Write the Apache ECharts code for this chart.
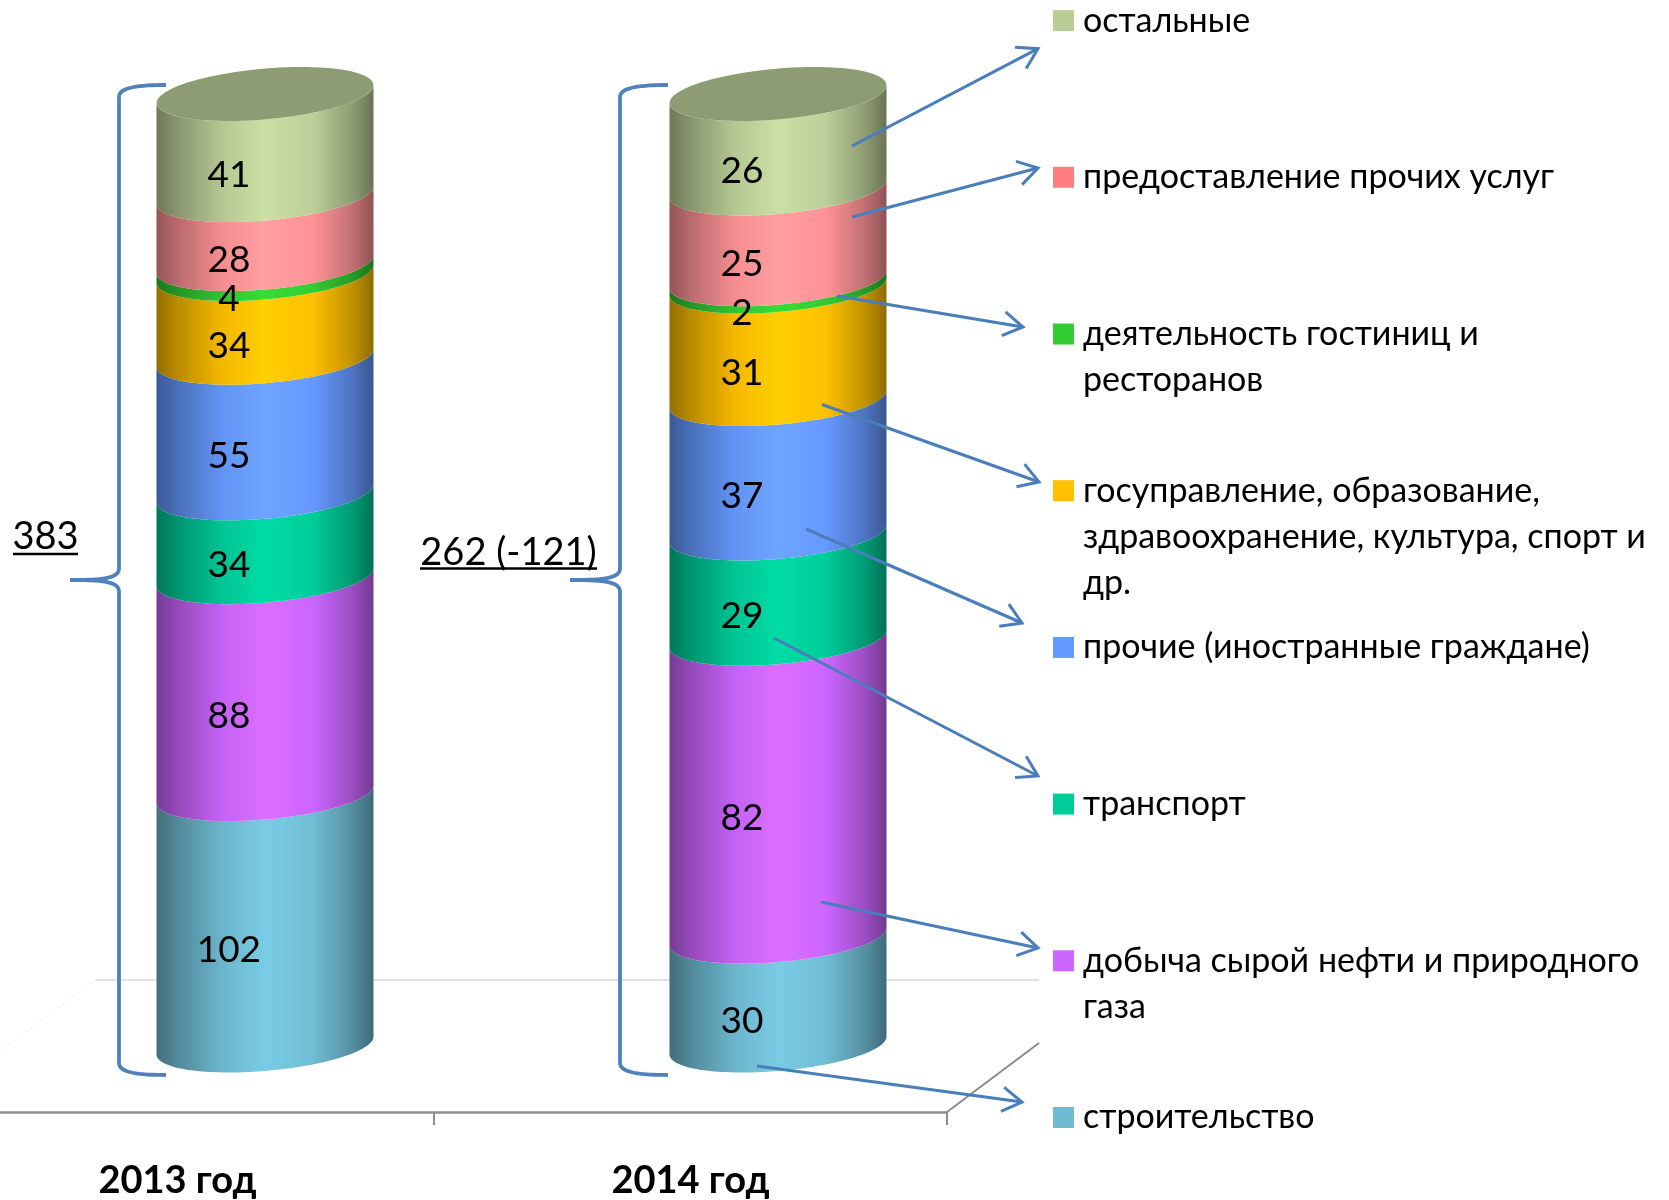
<!DOCTYPE html>
<html>
<head>
<meta charset="utf-8">
<style>html,body{margin:0;padding:0;background:#fff}#chart{width:1669px;height:1200px}</style>
<script src="https://cdn.jsdelivr.net/npm/echarts@6/dist/echarts.min.js"></script>
</head>
<body>
<div id="chart"></div>
<script>
// ---- data ----
const categories = ['2013 год', '2014 год'];
const construction = [102, 30];
const oilGas = [88, 82];
const transport = [34, 29];
const otherForeign = [55, 37];
const publicSector = [34, 31];
const hotels = [4, 2];
const otherServices = [28, 25];
const remaining = [41, 26];
const seriesNames = [
  'строительство',
  'добыча сырой нефти и природного газа',
  'транспорт',
  'прочие (иностранные граждане)',
  'госуправление, образование, здравоохранение, культура, спорт и др.',
  'деятельность гостиниц и ресторанов',
  'предоставление прочих услуг',
  'остальные'
];
const seriesValues = [construction, oilGas, transport, otherForeign, publicSector, hotels, otherServices, remaining];
const legendLines = [
  ['строительство'],
  ['добыча сырой нефти и природного', 'газа'],
  ['транспорт'],
  ['прочие (иностранные граждане)'],
  ['госуправление, образование,', 'здравоохранение, культура, спорт и', 'др.'],
  ['деятельность гостиниц и', 'ресторанов'],
  ['предоставление прочих услуг'],
  ['остальные']
];
const legendColors = ['#6fbcd2', '#cc66ff', '#00cc99', '#6699ff', '#ffc000', '#33cc33', '#ff7c80', '#b9cd96'];
const barColors = ['#70bdd4', '#cc66ff', '#00cc99', '#6699ff', '#ffc000', '#33cc33', '#ff9396', '#bccf98'];
const totalLabels = ['383', '262 (-121)'];

// ---- layout / style ----
const FONT = 'Lato, "Noto Sans", sans-serif';
const LABEL_SIZE = 37, LEGEND_SIZE = 34, TOTAL_SIZE = 38, CAT_SIZE = 38;
const DEPTH_X = 87.5, RATIO = 0.423, TILT = 9, BULGE = 25.5;
const CAP_COLOR = '#8e9c74';
const BLUE = '#4a7ebb';

const totals = categories.map((_, c) => seriesValues.reduce((s, v) => s + v[c], 0));

function shade(hex, f) {
  const n = parseInt(hex.slice(1), 16);
  const ch = [n >> 16, (n >> 8) & 255, n & 255].map(v => Math.min(255, Math.round(v * f)));
  return 'rgb(' + ch.join(',') + ')';
}
function gradient(hex) {
  return new echarts.graphic.LinearGradient(0, 0, 1, 0, [
    { offset: 0, color: shade(hex, 0.58) },
    { offset: 0.1, color: shade(hex, 0.73) },
    { offset: 0.3, color: shade(hex, 0.96) },
    { offset: 0.5, color: shade(hex, 1.08) },
    { offset: 0.72, color: shade(hex, 1.0) },
    { offset: 0.9, color: shade(hex, 0.76) },
    { offset: 1, color: shade(hex, 0.56) }
  ]);
}
function arc(cx, cy, a, from, to) {
  const pts = [];
  for (let i = 0; i <= 48; i++) {
    const t = from + (to - from) * i / 48;
    pts.push([cx + a * Math.cos(t), cy - TILT * Math.cos(t) + BULGE * Math.sin(t)]);
  }
  return pts;
}

function makeSeries(si) {
  const data = categories.map((_, c) => {
    let below = 0;
    for (let k = 0; k < si; k++) below += seriesValues[k][c];
    return [c, seriesValues[si][c], below / totals[c], (below + seriesValues[si][c]) / totals[c]];
  });
  return {
    name: seriesNames[si],
    type: 'custom',
    coordinateSystem: 'cartesian2d',
    itemStyle: { color: legendColors[si] },
    encode: { x: 0, y: 3 },
    z: 3,
    data: data,
    renderItem: function (params, api) {
      const c = api.value(0);
      const lo = api.coord([c, api.value(2)]);
      const hi = api.coord([c, api.value(3)]);
      const a = api.size([1, 0])[0] * RATIO / 2;
      const cx = lo[0] + DEPTH_X;
      const pts = arc(cx, lo[1], a, Math.PI, 0).concat(arc(cx, hi[1], a, 0, Math.PI));
      const children = [{
        type: 'polygon',
        shape: { points: pts },
        style: { fill: gradient(barColors[si]) }
      }];
      if (si === seriesValues.length - 1) {
        children.push({
          type: 'polygon',
          shape: { points: arc(cx, hi[1], a, 0, 2 * Math.PI) },
          style: { fill: CAP_COLOR }
        });
      }
      const amp = Math.sqrt(TILT * TILT + BULGE * BULGE);
      children.push({
        type: 'text',
        z2: 50,
        style: {
          text: String(api.value(1)),
          x: cx - a * TILT / amp,
          y: (lo[1] + hi[1]) / 2 + amp + 3,
          align: 'center',
          verticalAlign: 'middle',
          fill: '#000',
          font: LABEL_SIZE + 'px ' + FONT
        }
      });
      return { type: 'group', children: children };
    }
  };
}

// legends: one block per entry so that rows keep an even pitch
const LEGEND_X = 1053, LEGEND_FIRST = 1117.5, LEGEND_PITCH = 156.7, LINE_H = 46;
const legends = seriesNames.map((name, i) => {
  const lines = legendLines[i];
  const pad = lines.length - 1;
  const blockH = (2 * pad + 1) * LINE_H;
  const cy = LEGEND_FIRST - i * LEGEND_PITCH;
  return {
    data: [name],
    left: LEGEND_X,
    top: cy - blockH / 2,
    padding: 0,
    orient: 'vertical',
    selectedMode: false,
    icon: 'rect',
    itemWidth: 21,
    itemHeight: 21,
    formatter: () => '\n'.repeat(pad) + lines.join('\n'),
    textStyle: {
      color: '#000',
      fontFamily: FONT,
      fontSize: LEGEND_SIZE,
      lineHeight: LINE_H,
      padding: [0, 0, 0, 4]
    }
  };
});

// annotation arrows: [startX, startY, tipX, tipY]
const arrowSegments = [
  [852, 146, 1038, 48.7],
  [852, 217, 1038, 168],
  [837, 296, 1023, 327],
  [822, 404.5, 1039, 482],
  [806, 529, 1022, 623],
  [774, 638, 1038, 776],
  [821, 902, 1038, 948],
  [757, 1066, 1022, 1102]
];
function arrow(seg) {
  const [x0, y0, x1, y1] = seg;
  const ang = Math.atan2(y1 - y0, x1 - x0), L = 23, sp = 0.55;
  const b1 = [x1 - L * Math.cos(ang - sp), y1 - L * Math.sin(ang - sp)];
  const b2 = [x1 - L * Math.cos(ang + sp), y1 - L * Math.sin(ang + sp)];
  return [
    { type: 'line', z: 10, shape: { x1: x0, y1: y0, x2: x1, y2: y1 }, style: { stroke: BLUE, lineWidth: 3 } },
    { type: 'polyline', z: 10, shape: { points: [b1, [x1, y1], b2] }, style: { stroke: BLUE, lineWidth: 3, fill: null } }
  ];
}
function curve(p0, p1, p2, p3) {
  const pts = [];
  for (let i = 0; i <= 16; i++) {
    const t = i / 16, u = 1 - t;
    pts.push([
      u * u * u * p0[0] + 3 * u * u * t * p1[0] + 3 * u * t * t * p2[0] + t * t * t * p3[0],
      u * u * u * p0[1] + 3 * u * u * t * p1[1] + 3 * u * t * t * p2[1] + t * t * t * p3[1]
    ]);
  }
  return pts;
}
function brace(xV, xTip, xEnd) {
  const pts = [].concat(
    curve([xEnd, 85], [xEnd - 26, 85], [xV, 87], [xV, 97]),
    curve([xV, 568], [xV, 577], [xV - 10, 580], [xTip, 580]),
    curve([xTip, 580], [xV - 10, 580], [xV, 583], [xV, 592]),
    curve([xV, 1063], [xV, 1073], [xEnd - 26, 1075], [xEnd, 1075])
  );
  return { type: 'polyline', z: 10, shape: { points: pts }, style: { stroke: '#4f81bd', lineWidth: 3.8, fill: null } };
}
function total(text, x0, x1, cy, uy) {
  return [
    { type: 'text', z: 10, style: { text: text, x: (x0 + x1) / 2, y: cy, align: 'center', verticalAlign: 'middle', fill: '#000', font: TOTAL_SIZE + 'px ' + FONT } },
    { type: 'line', z: 10, shape: { x1: x0, y1: uy, x2: x1, y2: uy }, style: { stroke: '#000', lineWidth: 2.5 } }
  ];
}
const graphicElements = [
  { type: 'line', z: 0, shape: { x1: 96, y1: 980, x2: 1039, y2: 980 }, style: { stroke: '#e3e3e3', lineWidth: 2 } },
  { type: 'line', z: 0, shape: { x1: 96, y1: 980, x2: 0, y2: 1052 }, style: { stroke: '#ececec', lineWidth: 1, lineDash: [2, 3] } },
  { type: 'line', z: 0, shape: { x1: 947, y1: 1112, x2: 1039, y2: 1043 }, style: { stroke: '#8c8c8c', lineWidth: 2 } },
  brace(119, 70, 166),
  brace(620, 570, 668)
].concat(arrowSegments.flatMap(arrow))
 .concat(total(totalLabels[0], 13, 78, 537, 554))
 .concat(total(totalLabels[1], 420, 597, 553, 568.5));

const chart = echarts.init(document.getElementById('chart'), null, { renderer: 'canvas' });
chart.setOption({
  animation: false,
  backgroundColor: '#ffffff',
  legend: legends,
  grid: { left: -79, width: 1026, top: 94, height: 951.5, containLabel: false, outerBoundsMode: 'none' },
  xAxis: {
    type: 'category',
    data: categories,
    offset: 66.5,
    axisLine: { show: true, onZero: false, lineStyle: { color: '#8c8c8c', width: 2.5 } },
    axisTick: { show: true, length: 13, lineStyle: { color: '#8c8c8c', width: 2 } },
    axisLabel: { show: true, margin: 50, color: '#000', fontFamily: FONT, fontWeight: 'bold', fontSize: CAT_SIZE }
  },
  yAxis: { type: 'value', min: 0, max: 1, show: false, splitLine: { show: false } },
  series: seriesValues.map((_, i) => makeSeries(i)),
  graphic: { elements: graphicElements }
});
</script>
</body>
</html>
